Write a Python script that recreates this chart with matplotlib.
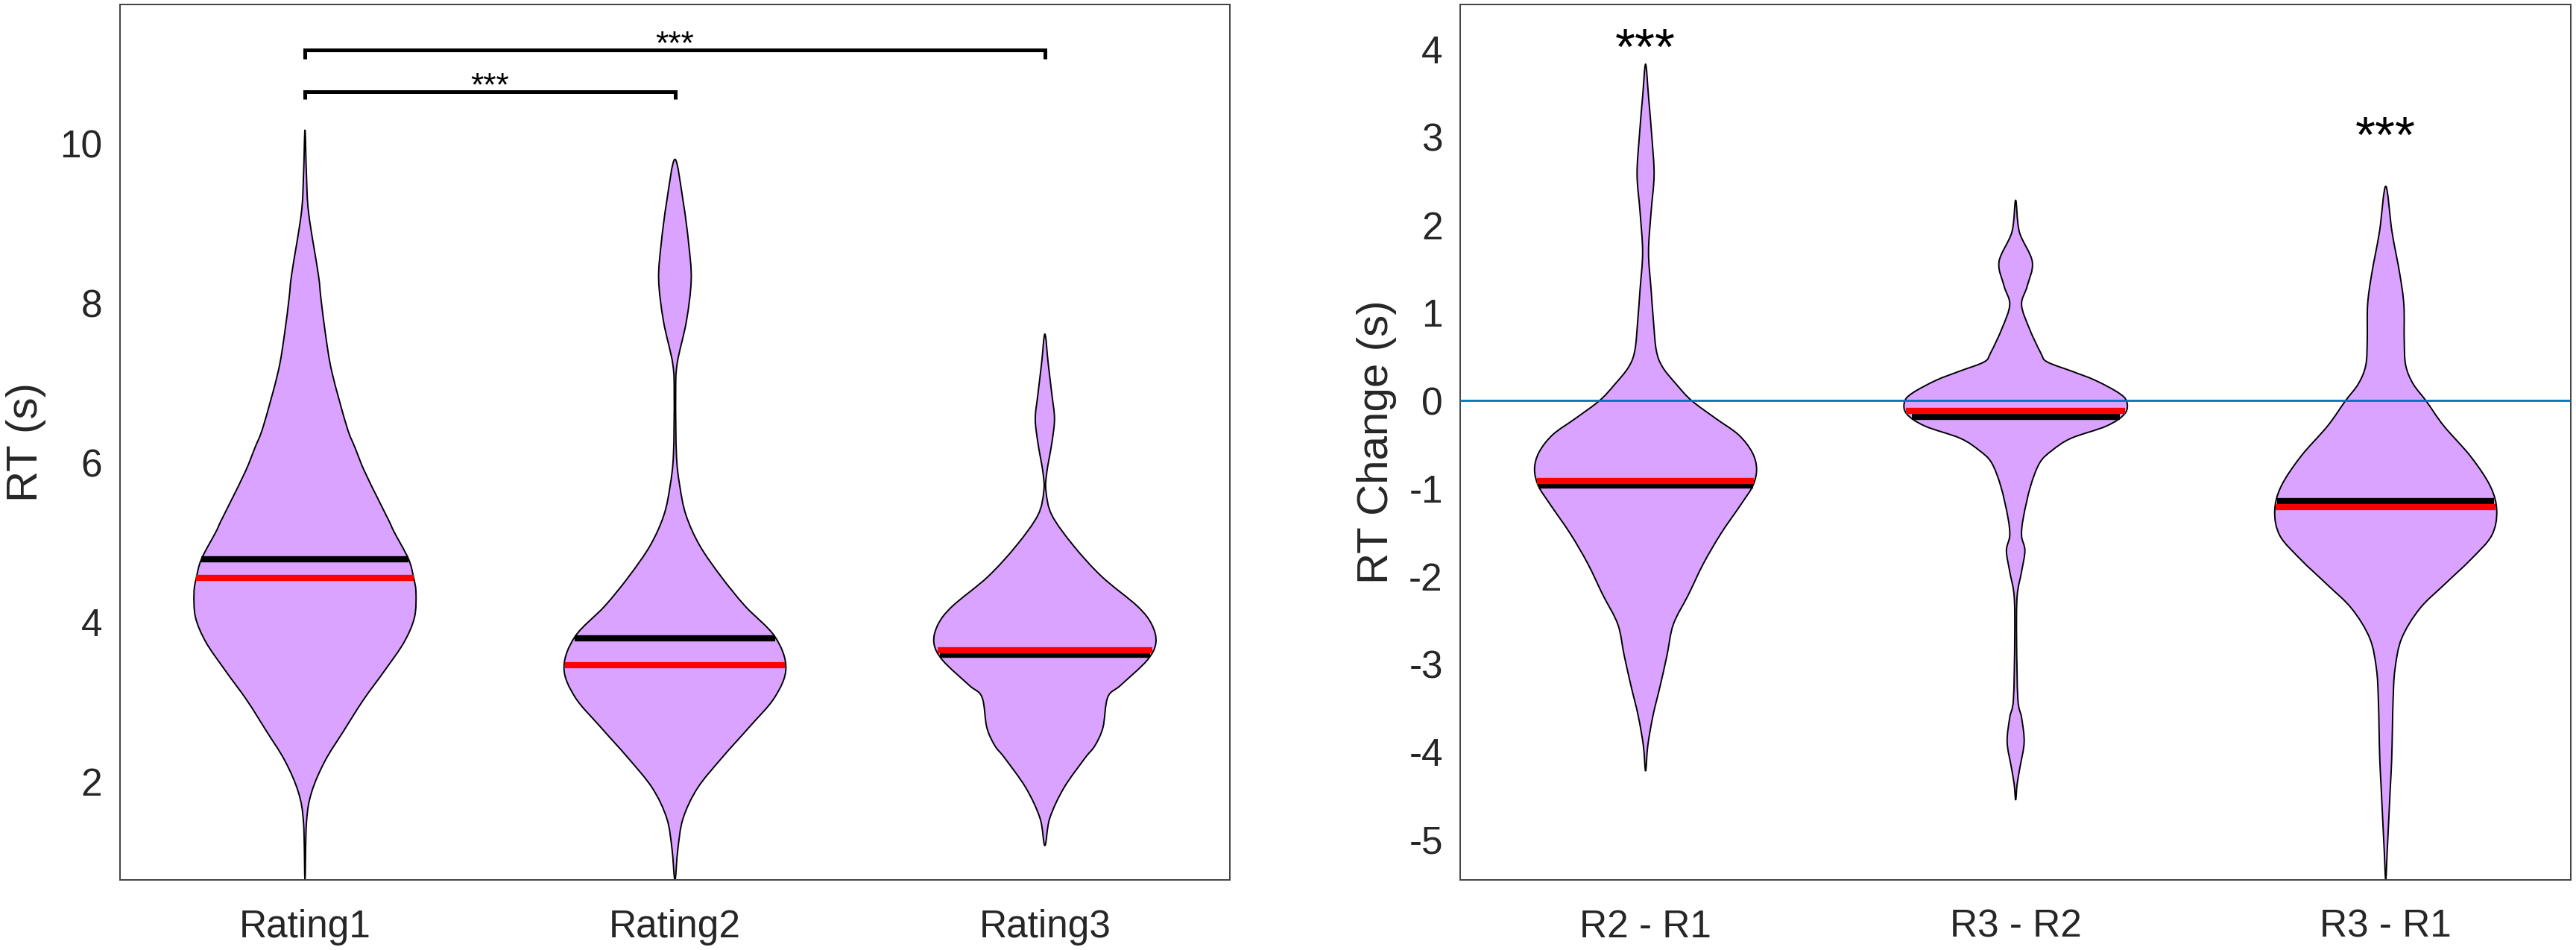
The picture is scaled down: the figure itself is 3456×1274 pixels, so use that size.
import matplotlib
matplotlib.use("Agg")
import matplotlib.pyplot as plt
from matplotlib.path import Path
from matplotlib.patches import PathPatch
import numpy as np

plt.rcParams['font.family'] = ['Liberation Sans', 'DejaVu Sans']
plt.rcParams['axes.unicode_minus'] = False

VIOLIN_COLOR = '#D9A3FF'
TEXT_COLOR = '#262626'

# left panel: raw RT per rating (violin outline = level, half width)
left_labels = ['Rating1', 'Rating2', 'Rating3']
r1_y = [10.17, 9.6, 9.12, 8.36, 8.06, 7.59, 7.13, 6.45, 6.19, 5.9, 5.52, 5.26, 5.13,
        4.79, 4.55, 4.37, 4.06, 3.75, 3.41, 3.02, 2.64, 2.26, 1.87, 1.49, 0.77]
r1_w = [0.0, 0.004, 0.010, 0.036, 0.043, 0.056, 0.073, 0.113, 0.135, 0.160, 0.200, 0.228, 0.241,
        0.280, 0.294, 0.300, 0.296, 0.268, 0.218, 0.157, 0.105, 0.054, 0.018, 0.004, 0.0]
r2_y = [9.80, 9.28, 8.75, 8.29, 7.77, 7.24, 6.85, 6.10, 5.71, 5.34, 4.96, 4.57, 4.20,
        3.82, 3.43, 3.06, 2.68, 2.30, 1.92, 1.54, 1.16, 0.77]
r2_w = [0.0, 0.022, 0.037, 0.044, 0.031, 0.006, 0.002, 0.004, 0.013, 0.030, 0.067, 0.125, 0.190,
        0.270, 0.300, 0.270, 0.200, 0.127, 0.061, 0.022, 0.008, 0.0]
r3_y = [7.61, 7.24, 6.85, 6.55, 6.25, 5.87, 5.64, 5.34, 4.96, 4.57, 4.20, 3.97, 3.74,
        3.52, 3.21, 3.06, 2.68, 2.45, 2.30, 1.92, 1.54, 1.20]
r3_w = [0.0, 0.009, 0.019, 0.026, 0.019, 0.005, 0.003, 0.019, 0.077, 0.154, 0.250, 0.289, 0.300,
        0.276, 0.205, 0.170, 0.157, 0.135, 0.109, 0.051, 0.013, 0.0]
left_means = [4.79, 3.80, 3.59]
left_medians = [4.55, 3.46, 3.65]

# right panel: RT change between ratings
right_labels = ['R2 - R1', 'R3 - R2', 'R3 - R1']
d21_y = [3.83, 3.46, 3.0, 2.57, 2.15, 1.69, 1.26, 0.92, 0.57, 0.38, 0.18, 0.0, -0.2,
         -0.39, -0.59, -0.78, -0.97, -1.17, -1.52, -1.86, -2.21, -2.55, -2.90, -3.24,
         -3.59, -3.93, -4.22]
d21_w = [0.0, 0.008, 0.017, 0.023, 0.015, 0.008, 0.015, 0.021, 0.029, 0.046, 0.084, 0.124, 0.188,
         0.251, 0.288, 0.300, 0.290, 0.260, 0.203, 0.156, 0.116, 0.075, 0.058, 0.040,
         0.020, 0.006, 0.0]
d32_y = [2.28, 1.92, 1.58, 1.30, 1.09, 0.82, 0.54, 0.44, 0.33, 0.23, 0.09, -0.01, -0.15,
         -0.29, -0.43, -0.57, -0.71, -0.98, -1.33, -1.54, -1.71, -1.95, -2.23, -2.71,
         -3.40, -3.61, -3.89, -4.17, -4.37, -4.55]
d32_w = [0.0, 0.010, 0.045, 0.031, 0.016, 0.037, 0.068, 0.085, 0.154, 0.215, 0.277, 0.300, 0.295,
         0.246, 0.150, 0.098, 0.065, 0.040, 0.021, 0.016, 0.025, 0.016, 0.004, 0.0025,
         0.006, 0.016, 0.023, 0.012, 0.004, 0.0]
d31_y = [2.44, 1.92, 1.44, 1.09, 0.68, 0.40, 0.19, -0.01, -0.29, -0.64, -0.98, -1.26,
         -1.54, -1.81, -2.09, -2.37, -2.71, -3.06, -3.40, -3.75, -4.10, -4.44, -4.79,
         -5.13, -5.46]
d31_w = [0.0, 0.017, 0.038, 0.049, 0.050, 0.054, 0.074, 0.110, 0.157, 0.230, 0.283, 0.300,
         0.286, 0.230, 0.160, 0.092, 0.043, 0.025, 0.020, 0.018, 0.016, 0.012, 0.008,
         0.004, 0.0]
right_means = [-0.97, -0.19, -1.15]
right_medians = [-0.92, -0.12, -1.21]


def violin_path(pos, ys, ws):
    # closed outline through the read points, drawn as smooth cubic curves
    right = [(pos + w, y) for y, w in zip(ys, ws)]
    left = [(pos - w, y) for y, w in zip(ys[1:-1], ws[1:-1])][::-1]
    pts = np.array(right + left)
    n = len(pts)
    verts = [pts[0]]
    codes = [Path.MOVETO]
    for i in range(n):
        p0, p1 = pts[i - 1], pts[i]
        p2, p3 = pts[(i + 1) % n], pts[(i + 2) % n]
        verts += [p1 + (p2 - p0) / 6, p2 - (p3 - p1) / 6, p2]
        codes += [Path.CURVE4] * 3
    verts.append(pts[0])
    codes.append(Path.CLOSEPOLY)
    return Path(verts, codes)


def draw_violin(ax, pos, ys, ws, mean, median):
    ys = np.asarray(ys)
    ws = np.asarray(ws)
    ax.add_patch(PathPatch(violin_path(pos, ys, ws), facecolor=VIOLIN_COLOR,
                           edgecolor='black', linewidth=0.7, zorder=2))
    order = np.argsort(ys)
    for val, col in ((mean, 'black'), (median, 'red')):
        hw = np.interp(val, ys[order], ws[order])
        ax.plot([pos - hw, pos + hw], [val, val], color=col, lw=3,
                solid_capstyle='butt', zorder=4)


def style_axes(ax, labels, ylabel, label_x):
    ax.set_xlim(0.5, 3.5)
    ax.set_xticks([1, 2, 3])
    ax.set_xticklabels(labels)
    ax.tick_params(length=0, labelsize=18.5, labelcolor=TEXT_COLOR)
    ax.tick_params(axis='x', pad=14)
    ax.tick_params(axis='y', pad=8.5)
    for sp in ax.spines.values():
        sp.set_color('#404040')
        sp.set_linewidth(0.7)
    ax.set_ylabel(ylabel, fontsize=21, color=TEXT_COLOR)
    ax.yaxis.set_label_coords(label_x, 0.5)


fig = plt.figure(figsize=(17.28, 6.37), dpi=200)
ax1 = fig.add_axes([0.04659, 0.07378, 0.43084, 0.92151])
ax2 = fig.add_axes([0.56698, 0.07378, 0.43099, 0.92151])

left_data = [(r1_y, r1_w), (r2_y, r2_w), (r3_y, r3_w)]
for i, (ys, ws) in enumerate(left_data):
    draw_violin(ax1, i + 1, ys, ws, left_means[i], left_medians[i])
ax1.set_ylim(0.77, 11.74)
ax1.set_yticks([2, 4, 6, 8, 10])
style_axes(ax1, left_labels, 'RT (s)', -0.0665)

# significance brackets
for x0, x1, top, foot, star_y in ((1, 2, 10.65, 10.55, 10.60), (1, 3, 11.17, 11.06, 11.12)):
    ax1.plot([x0, x0, x1, x1], [foot, top, top, foot], color='black', lw=1.8,
             solid_joinstyle='miter', solid_capstyle='butt', zorder=5)
    ax1.text((x0 + x1) / 2, star_y, '***', ha='center', va='baseline',
             fontsize=16, color='black')

right_data = [(d21_y, d21_w), (d32_y, d32_w), (d31_y, d31_w)]
for i, (ys, ws) in enumerate(right_data):
    draw_violin(ax2, i + 1, ys, ws, right_means[i], right_medians[i])
ax2.axhline(0, color='#0072BD', lw=1.0, zorder=3)
ax2.set_ylim(-5.46, 4.51)
ax2.set_yticks(np.arange(-5, 5))
style_axes(ax2, right_labels, 'RT Change (s)', -0.0574)

for x, y in ((1, 3.83), (3, 2.83)):
    ax2.text(x, y, '***', ha='center', va='baseline', fontsize=25, color='black')

fig.savefig('out.png', dpi=200)
